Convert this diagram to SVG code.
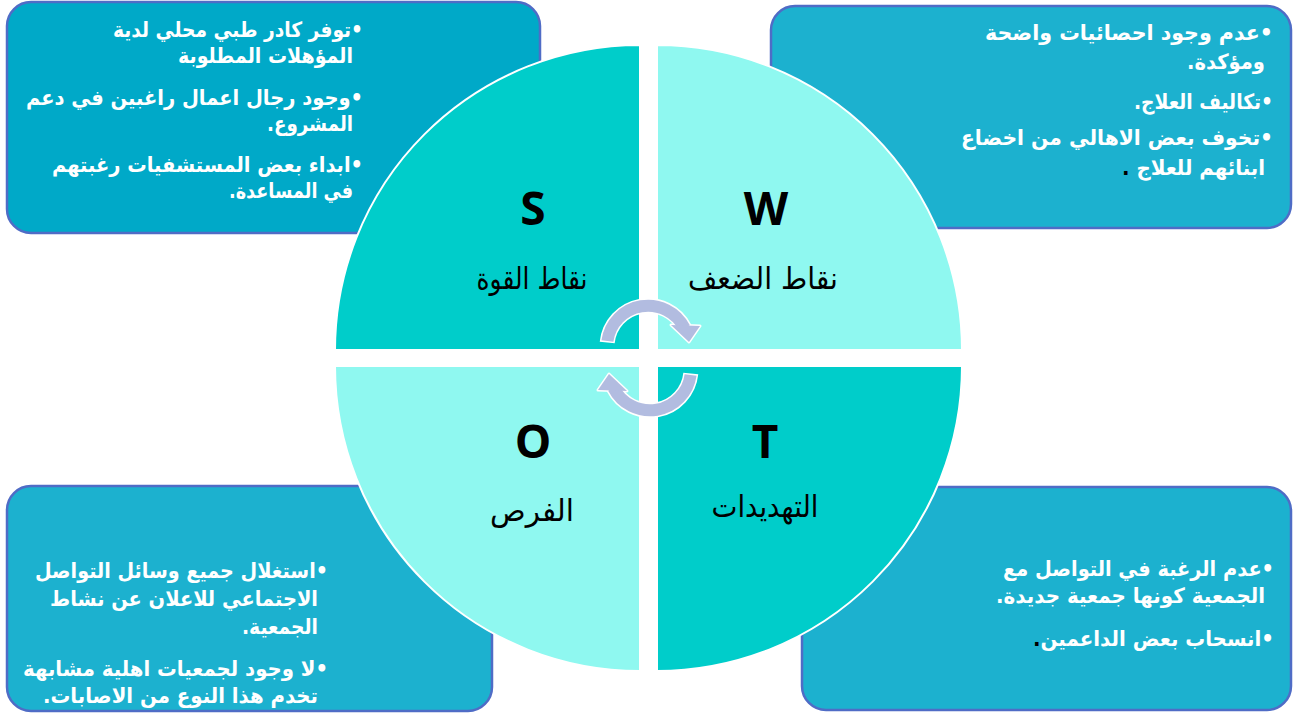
<svg xmlns="http://www.w3.org/2000/svg" width="1303" height="713" viewBox="0 0 1303 713">
<style>
.box{stroke:#4F6CC6;stroke-width:2.5}
.b1{fill:#00A9C8}
.b2{fill:#1CB1CF}
.q{stroke:#fff;stroke-width:2}
.dk{fill:#00CDCA}
.lt{fill:#8FF8F0}
.bt{font-family:"DejaVu Sans",sans-serif;font-weight:bold;font-size:21px;fill:#fff;direction:rtl;text-anchor:start}
.let{font-family:"Open Sans",sans-serif;font-weight:bold;font-size:46px;fill:#000;text-anchor:middle}
.lab{font-family:"DejaVu Sans",sans-serif;font-size:30px;fill:#000;text-anchor:middle}
.blk{fill:#000}
</style>
<defs>
<g id="arrow">
<path d="M607.2,342.5 A41,41 0 0 1 684.5,328" fill="none" stroke="#fff" stroke-width="15"/>
<polygon points="671,325 700,326 689,342" fill="#fff" stroke="#fff" stroke-width="3" stroke-linejoin="round"/>
<path d="M607.4,341 A41,41 0 0 1 684.5,328" fill="none" stroke="#B2BCE0" stroke-width="12"/>
<polygon points="671,325 700,326 689,342" fill="#B2BCE0"/>
</g>
</defs>
<rect width="1303" height="713" fill="#fff"/>

<g id="box-strengths">
<rect class="box b1" x="7" y="2" width="533" height="231" rx="24"/>
<text class="bt" x="363" y="37" textLength="250" lengthAdjust="spacingAndGlyphs">•توفر كادر طبي محلي لدية</text>
<text class="bt" x="353" y="63" textLength="175" lengthAdjust="spacingAndGlyphs">المؤهلات المطلوبة</text>
<text class="bt" x="363" y="105" textLength="337" lengthAdjust="spacingAndGlyphs">•وجود رجال اعمال راغبين في دعم</text>
<text class="bt" x="353" y="131" textLength="86" lengthAdjust="spacingAndGlyphs">المشروع.</text>
<text class="bt" x="363" y="172" textLength="311" lengthAdjust="spacingAndGlyphs">•ابداء بعض المستشفيات رغبتهم</text>
<text class="bt" x="353" y="198" textLength="124" lengthAdjust="spacingAndGlyphs">في المساعدة.</text>
</g>

<g id="box-weaknesses">
<rect class="box b2" x="771" y="6" width="520" height="222" rx="24"/>
<text class="bt" x="1273" y="40" textLength="288" lengthAdjust="spacingAndGlyphs">•عدم وجود احصائيات واضحة</text>
<text class="bt" x="1265" y="69" textLength="78" lengthAdjust="spacingAndGlyphs">ومؤكدة.</text>
<text class="bt" x="1273" y="109" textLength="139" lengthAdjust="spacingAndGlyphs">•تكاليف العلاج.</text>
<text class="bt" x="1273" y="145" textLength="312" lengthAdjust="spacingAndGlyphs">•تخوف بعض الاهالي من اخضاع</text>
<text class="bt" x="1265" y="175" textLength="143" lengthAdjust="spacingAndGlyphs">ابنائهم للعلاج <tspan class="blk">.</tspan></text>
</g>

<g id="box-opportunities">
<rect class="box b2" x="7" y="486" width="485" height="225" rx="24"/>
<text class="bt" x="328" y="578" textLength="293" lengthAdjust="spacingAndGlyphs">•استغلال جميع وسائل التواصل</text>
<text class="bt" x="318" y="606" textLength="268" lengthAdjust="spacingAndGlyphs">الاجتماعي للاعلان عن نشاط</text>
<text class="bt" x="318" y="634" textLength="76" lengthAdjust="spacingAndGlyphs">الجمعية.</text>
<text class="bt" x="328" y="676" textLength="305" lengthAdjust="spacingAndGlyphs">•لا وجود لجمعيات اهلية مشابهة</text>
<text class="bt" x="318" y="703" textLength="275" lengthAdjust="spacingAndGlyphs">تخدم هذا النوع من الاصابات.</text>
</g>

<g id="box-threats">
<rect class="box b2" x="802" y="487" width="489" height="223" rx="24"/>
<text class="bt" x="1274" y="576" textLength="271" lengthAdjust="spacingAndGlyphs">•عدم الرغبة في التواصل مع</text>
<text class="bt" x="1265" y="603" textLength="269" lengthAdjust="spacingAndGlyphs">الجمعية كونها جمعية جديدة.</text>
<text class="bt" x="1274" y="646" textLength="241" lengthAdjust="spacingAndGlyphs">•انسحاب بعض الداعمين<tspan class="blk">.</tspan></text>
</g>

<g id="quad-S">
<path class="q dk" d="M640,350 L335,350 A305,305 0 0 1 640,45 Z"/>
<text class="let" x="533" y="225">S</text>
<text class="lab" x="532" y="289" textLength="111" lengthAdjust="spacingAndGlyphs">نقاط القوة</text>
</g>
<g id="quad-W">
<path class="q lt" d="M657,350 L657,45 A305,305 0 0 1 962,350 Z"/>
<text class="let" x="766" y="225">W</text>
<text class="lab" x="763" y="289" textLength="150" lengthAdjust="spacingAndGlyphs">نقاط الضعف</text>
</g>
<g id="quad-O">
<path class="q lt" d="M640,366 L640,671 A305,305 0 0 1 335,366 Z"/>
<text class="let" x="533" y="458">O</text>
<text class="lab" x="532" y="521" textLength="84" lengthAdjust="spacingAndGlyphs">الفرص</text>
</g>
<g id="quad-T">
<path class="q dk" d="M657,366 L962,366 A305,305 0 0 1 657,671 Z"/>
<text class="let" x="765" y="458">T</text>
<text class="lab" x="765" y="517" textLength="107" lengthAdjust="spacingAndGlyphs">التهديدات</text>
</g>

<g id="connectors">
<use href="#arrow"/>
<use href="#arrow" transform="rotate(180 649 358)"/>
</g>
</svg>
